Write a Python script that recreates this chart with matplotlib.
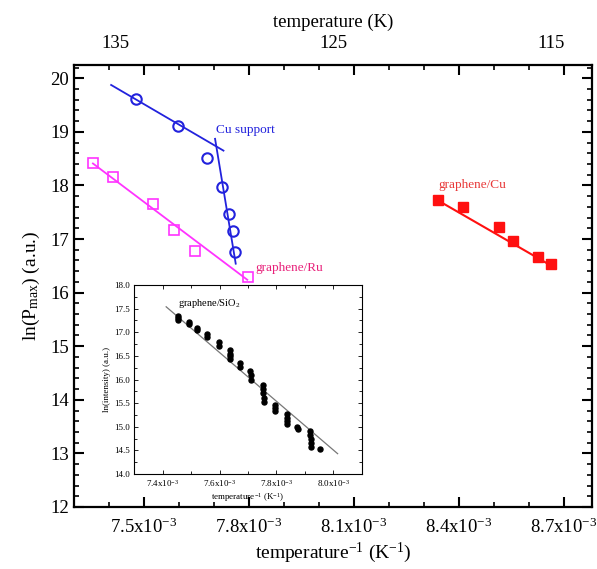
import matplotlib
matplotlib.use("Agg")
import matplotlib.pyplot as plt
from matplotlib.ticker import MultipleLocator, FixedLocator, FixedFormatter
import numpy as np

plt.rcParams['font.family'] = ['Liberation Serif', 'DejaVu Serif']
plt.rcParams['mathtext.fontset'] = 'custom'
plt.rcParams['mathtext.rm'] = 'Liberation Serif'
plt.rcParams['mathtext.it'] = 'Liberation Serif:italic'
plt.rcParams['mathtext.bf'] = 'Liberation Serif:bold'

# ---------------- data (main panel) ----------------
cu_x = [7.477e-3, 7.596e-3, 7.679e-3, 7.722e-3, 7.742e-3, 7.753e-3, 7.760e-3]
cu_y = [19.61, 19.10, 18.51, 17.97, 17.46, 17.15, 16.75]
cu_fit1_x = [7.406e-3, 7.727e-3]
cu_fit1_y = [19.875, 18.65]
cu_fit2_x = [7.703e-3, 7.762e-3]
cu_fit2_y = [18.87, 16.54]

ru_x = [7.354e-3, 7.411e-3, 7.525e-3, 7.586e-3, 7.646e-3, 7.798e-3]
ru_y = [18.41, 18.16, 17.65, 17.17, 16.77, 16.29]
ru_fit_x = [7.354e-3, 7.795e-3]
ru_fit_y = [18.41, 16.24]

gcu_x = [8.340e-3, 8.411e-3, 8.515e-3, 8.554e-3, 8.626e-3, 8.664e-3]
gcu_y = [17.72, 17.59, 17.23, 16.96, 16.66, 16.54]
gcu_fit_x = [8.340e-3, 8.664e-3]
gcu_fit_y = [17.72, 16.50]

x_tick_values = [7.5e-3, 7.8e-3, 8.1e-3, 8.4e-3, 8.7e-3]
x_tick_labels = ['7.5x10$^{-3}$', '7.8x10$^{-3}$', '8.1x10$^{-3}$', '8.4x10$^{-3}$', '8.7x10$^{-3}$']
top_tick_values = [135, 125, 115]
top_tick_labels = ['135', '125', '115']

# ---------------- data (inset, graphene/SiO2) ----------------
sio2_x = [7.454e-3, 7.454e-3, 7.454e-3,
          7.491e-3, 7.491e-3,
          7.522e-3, 7.522e-3,
          7.557e-3, 7.557e-3,
          7.598e-3, 7.598e-3,
          7.636e-3, 7.636e-3, 7.636e-3, 7.636e-3,
          7.670e-3, 7.670e-3,
          7.708e-3, 7.710e-3, 7.710e-3,
          7.751e-3, 7.753e-3, 7.754e-3, 7.755e-3, 7.756e-3,
          7.795e-3, 7.795e-3, 7.795e-3,
          7.836e-3, 7.836e-3, 7.836e-3, 7.836e-3,
          7.873e-3, 7.875e-3,
          7.918e-3, 7.918e-3, 7.920e-3, 7.920e-3, 7.920e-3,
          7.954e-3]
sio2_y = [17.35, 17.31, 17.26,
          17.21, 17.17,
          17.10, 17.05,
          16.96, 16.89,
          16.80, 16.71,
          16.62, 16.55, 16.50, 16.43,
          16.36, 16.26,
          16.18, 16.09, 15.98,
          15.89, 15.79, 15.71, 15.61, 15.52,
          15.45, 15.39, 15.33,
          15.26, 15.19, 15.12, 15.05,
          15.00, 14.95,
          14.90, 14.83, 14.74, 14.66, 14.57,
          14.52]
sio2_fit_x = [7.412e-3, 8.015e-3]
sio2_fit_y = [17.54, 14.43]
inset_x_ticks = [7.4e-3, 7.6e-3, 7.8e-3, 8.0e-3]
inset_x_labels = ['7.4x10$^{-3}$', '7.6x10$^{-3}$', '7.8x10$^{-3}$', '8.0x10$^{-3}$']

# ---------------- colours ----------------
c_blue = '#2222dd'
c_mag = '#ff33ff'
c_red = '#ff1010'
c_ru_text = '#e8207a'
c_gcu_text = '#e83838'

fig = plt.figure(figsize=(5.97, 5.69), dpi=100)
ax = fig.add_axes([0.124, 0.109, 0.8676, 0.777])

# Cu support
ax.plot(cu_fit1_x, cu_fit1_y, color=c_blue, lw=1.3)
ax.plot(cu_fit2_x, cu_fit2_y, color=c_blue, lw=1.3)
ax.plot(cu_x, cu_y, 'o', ms=7.5, mfc='none', mec=c_blue, mew=1.5)
# graphene/Ru
ax.plot(ru_fit_x, ru_fit_y, color=c_mag, lw=1.3)
ax.plot(ru_x, ru_y, 's', ms=7, mfc='none', mec=c_mag, mew=1.2)
# graphene/Cu
ax.plot(gcu_fit_x, gcu_fit_y, color=c_red, lw=1.5)
ax.plot(gcu_x, gcu_y, 's', ms=7.3, mfc=c_red, mec=c_red)

ax.text(7.705e-3, 19.04, 'Cu support', color=c_blue, fontsize=9.5, ha='left', va='center')
ax.text(7.819e-3, 16.46, 'graphene/Ru', color=c_ru_text, fontsize=9.5, ha='left', va='center')
ax.text(8.340e-3, 18.01, 'graphene/Cu', color=c_gcu_text, fontsize=9.5, ha='left', va='center')

ax.set_xlim(7.3e-3, 8.78e-3)
ax.set_ylim(12, 20.25)
ax.xaxis.set_major_locator(FixedLocator(x_tick_values))
ax.xaxis.set_major_formatter(FixedFormatter(x_tick_labels))
ax.xaxis.set_minor_locator(MultipleLocator(0.1e-3))
ax.yaxis.set_major_locator(MultipleLocator(1))
ax.yaxis.set_minor_locator(MultipleLocator(0.2))
for s in ax.spines.values():
    s.set_linewidth(1.6)
ax.set_xlabel('temperature$^{-1}$ (K$^{-1}$)', fontsize=14, labelpad=2)
ax.set_ylabel('ln(P$_{\\mathrm{max}}$) (a.u.)', fontsize=14, labelpad=6)

# top temperature axis (linear in T)
ax2 = ax.twiny()
ax2.set_xlim(136.88, 113.12)
ax2.xaxis.set_major_locator(FixedLocator(top_tick_values))
ax2.xaxis.set_major_formatter(FixedFormatter(top_tick_labels))
ax2.tick_params(axis='x', length=0, labelsize=13.5, pad=9)
ax2.set_xlabel('temperature (K)', fontsize=13.5, labelpad=6)
for s in ax2.spines.values():
    s.set_visible(False)

ax.tick_params(which='both', direction='in', top=True, right=True, labelsize=13.5)
ax.tick_params(which='major', length=7, width=1.5)
ax.tick_params(which='minor', length=3.5, width=1.2)
ax.tick_params(axis='x', which='major', pad=8)

# ---------------- inset ----------------
ins = fig.add_axes([0.225, 0.167, 0.381, 0.332])
ins.plot(sio2_fit_x, sio2_fit_y, color='#777777', lw=0.9)
ins.plot(sio2_x, sio2_y, 'o', ms=3.6, color='black')
ins.text(7.454e-3, 17.61, 'graphene/SiO$_2$', fontsize=7.5, ha='left', va='center')
ins.set_xlim(7.3e-3, 8.1e-3)
ins.set_ylim(14.0, 18.0)
ins.xaxis.set_major_locator(FixedLocator(inset_x_ticks))
ins.xaxis.set_major_formatter(FixedFormatter(inset_x_labels))
ins.xaxis.set_minor_locator(MultipleLocator(0.1e-3))
ins.yaxis.set_major_locator(MultipleLocator(0.5))
ins.yaxis.set_minor_locator(MultipleLocator(0.25))
ins.yaxis.set_major_formatter(matplotlib.ticker.FormatStrFormatter('%.1f'))
ins.tick_params(which='both', direction='in', top=True, right=True, labelsize=6.5, width=0.6)
ins.tick_params(which='major', length=3)
ins.tick_params(which='minor', length=2)
ins.tick_params(axis='x', pad=3)
for s in ins.spines.values():
    s.set_linewidth(0.8)
ins.set_xlabel('temperature$^{-1}$ (K$^{-1}$)', fontsize=6.5, labelpad=1)
ins.set_ylabel('ln(intensity) (a.u.)', fontsize=6.5, labelpad=2)

fig.savefig('out.png', dpi=100)
